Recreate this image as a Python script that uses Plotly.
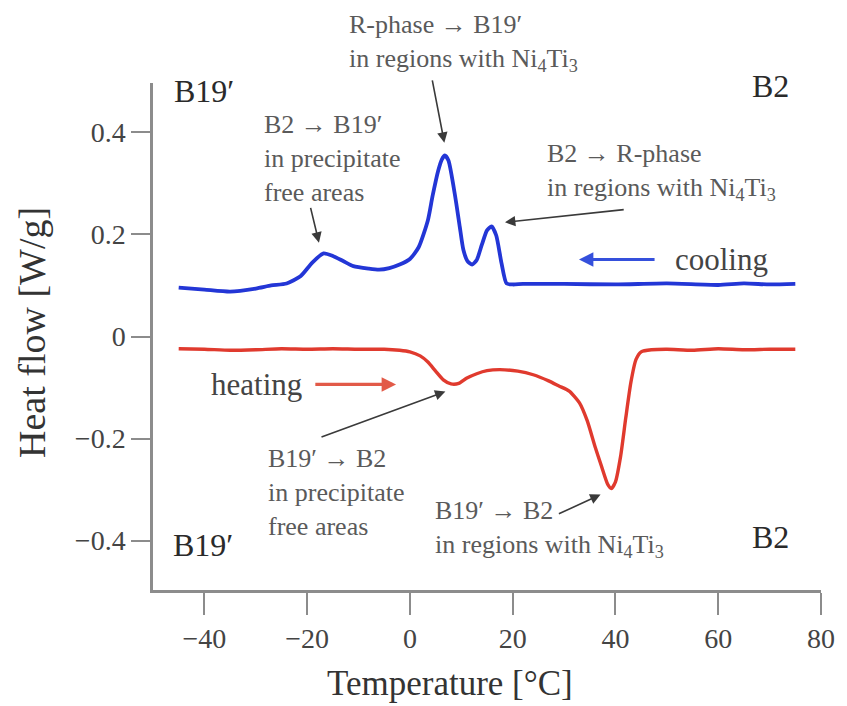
import plotly.graph_objects as go

# ---------------- data ----------------
cool_T = [-45, -40, -35, -30, -27, -24, -21.3, -19, -16.8, -15, -13, -11, -8, -6, -4, -2, 0, 1.7,
          3.5, 4.4, 5.5, 6.2, 6.8, 7.5, 8.8, 9.7, 10.4, 11.2, 12.1, 13, 14, 15, 15.9, 16.8, 17.8,
          18.8, 20, 22, 30, 40, 50, 60, 65, 70, 75]
cool_Q = [0.096, 0.092, 0.088, 0.094, 0.100, 0.104, 0.118, 0.145, 0.163, 0.158, 0.148, 0.138,
          0.133, 0.131, 0.134, 0.141, 0.152, 0.175, 0.228, 0.275, 0.325, 0.347, 0.355, 0.345,
          0.275, 0.215, 0.170, 0.148, 0.141, 0.150, 0.180, 0.208, 0.216, 0.198, 0.145, 0.104,
          0.102, 0.103, 0.103, 0.102, 0.104, 0.101, 0.104, 0.102, 0.103]

heat_T = [-45, -40, -35, -30, -25, -20, -15, -10, -5, -2, 0, 2, 3.5, 5, 6.5, 8, 9.5, 11, 13, 15,
          17.5, 21, 24, 27, 29, 31, 33, 34.5, 36, 37.3, 38.5, 39.2, 40, 41, 42, 43, 44, 45, 47,
          50, 55, 60, 65, 70, 75]
heat_Q = [-0.024, -0.025, -0.027, -0.026, -0.024, -0.025, -0.024, -0.025, -0.025, -0.027,
          -0.030, -0.038, -0.050, -0.068, -0.085, -0.093, -0.092, -0.082, -0.073, -0.067,
          -0.065, -0.068, -0.075, -0.087, -0.097, -0.107, -0.130, -0.165, -0.215, -0.255,
          -0.290, -0.298, -0.285, -0.235, -0.160, -0.090, -0.045, -0.030, -0.026, -0.025,
          -0.027, -0.024, -0.026, -0.025, -0.025]

x_ticks = [-40, -20, 0, 20, 40, 60, 80]
y_ticks = [-0.4, -0.2, 0, 0.2, 0.4]

NI = "Ni<sub>4</sub>Ti<sub>3</sub>"
note_texts = [
    "R-phase → B19′<br>in regions with " + NI,
    "B2 → B19′<br>in precipitate<br>free areas",
    "B2 → R-phase<br>in regions with " + NI,
    "B19′ → B2<br>in precipitate<br>free areas",
    "B19′ → B2<br>in regions with " + NI,
]
phase_texts = ["B19′", "B2", "B19′", "B2"]

BLUE = "#2336d6"
RED = "#e03a2e"
FONT = "Liberation Serif"

L, R, T, B = 153, 15, 83, 116
W, H = 847, 706
PW, PH = W - L - R, H - T - B


def px_x(p):
    return (p - L) / PW


def px_y(p):
    return (H - B - p) / PH


fig = go.Figure()
fig.add_trace(go.Scatter(x=cool_T, y=cool_Q, mode="lines", name="cooling",
                         line=dict(color=BLUE, width=3.8, shape="spline", smoothing=0.6)))
fig.add_trace(go.Scatter(x=heat_T, y=heat_Q, mode="lines", name="heating",
                         line=dict(color=RED, width=3.4, shape="spline", smoothing=0.6)))

ann = []
# transition notes (left aligned); first one sits above the plot area -> paper y
note_pos = [(-12.3, px_y(43.5), "paper"), (-28.7, 0.349, "y"), (26.2, 0.3225, "y"),
            (-28.1, -0.305, "y"), (4.4, -0.377, "y")]
for t, (x, y, yr) in zip(note_texts, note_pos):
    ann.append(dict(x=x, y=y, xref="x", yref=yr, text=t, showarrow=False, xanchor="left",
                    yanchor="middle", align="left", font=dict(family=FONT, size=26, color="#5a5a5a")))

# black pointer arrows: (head x, head y, tail x, tail y)
pointers = [(6.7, 0.38, 4.3, 0.505), (-17.7, 0.184, -19.4, 0.255), (18.5, 0.224, 41.9, 0.249),
            (6.9, -0.108, -17.5, -0.198), (37.1, -0.31, 28.7, -0.349)]
for hx, hy, tx, ty in pointers:
    ann.append(dict(x=hx, y=hy, ax=tx, ay=ty, xref="x", yref="y", axref="x", ayref="y", text="",
                    showarrow=True, arrowhead=2, arrowsize=1.3, arrowwidth=1.6, arrowcolor="#3a3a3a"))

# cooling / heating direction arrows
ann.append(dict(x=32.9, y=0.151, ax=47.9, ay=0.151, xref="x", yref="y", axref="x", ayref="y",
                text="", showarrow=True, arrowhead=2, arrowsize=0.9, arrowwidth=3.2, arrowcolor="#3550dc"))
ann.append(dict(x=-2.7, y=-0.094, ax=-18.7, ay=-0.094, xref="x", yref="y", axref="x", ayref="y",
                text="", showarrow=True, arrowhead=2, arrowsize=0.9, arrowwidth=3.2, arrowcolor="#e25a48"))
ann.append(dict(x=51.2, y=0.151, xref="x", yref="y", text="cooling", showarrow=False,
                xanchor="left", yanchor="middle", font=dict(family=FONT, size=31, color="#444")))
ann.append(dict(x=-39.2, y=-0.094, xref="x", yref="y", text="heating", showarrow=False,
                xanchor="left", yanchor="middle", font=dict(family=FONT, size=31, color="#444")))

# phase labels at corners
phase_pos = [(-46.3, 0.482, "left"), (74.2, 0.492, "right"), (-46.5, -0.408, "left"), (74.2, -0.394, "right")]
for t, (x, y, xa) in zip(phase_texts, phase_pos):
    ann.append(dict(x=x, y=y, xref="x", yref="y", text=t, showarrow=False, xanchor=xa,
                    yanchor="middle", font=dict(family=FONT, size=32, color="#2a2a2a")))

# axis titles
ann.append(dict(x=px_x(455), y=px_y(683), xref="paper", yref="paper", text="Temperature [°C]",
                showarrow=False, xanchor="center", yanchor="middle",
                font=dict(family=FONT, size=35, color="#333")))
ann.append(dict(x=px_x(30), y=px_y(332), xref="paper", yref="paper", text="Heat flow [W/g]",
                showarrow=False, textangle=-90, xanchor="center", yanchor="middle",
                font=dict(family=FONT, size=38, color="#333")))

fig.update_layout(
    width=W, height=H, margin=dict(l=L, r=R, t=T, b=B),
    paper_bgcolor="white", plot_bgcolor="white", showlegend=False,
    annotations=ann,
    xaxis=dict(range=[-50, 80], tickvals=x_ticks, ticktext=[f"{v:g}".replace("-", "−") for v in x_ticks],
               showline=True, linecolor="#8c8c8c", linewidth=2.5, ticks="outside", ticklen=22,
               tickwidth=2.2, tickcolor="#8c8c8c", showgrid=False, zeroline=False,
               tickfont=dict(family=FONT, size=28, color="#444")),
    yaxis=dict(range=[-0.497, 0.497], tickvals=y_ticks,
               ticktext=[("0" if v == 0 else f"{v:g}".replace("-", "−")) for v in y_ticks],
               showline=True, linecolor="#8c8c8c", linewidth=2.5, ticks="outside", ticklen=19,
               tickwidth=2.2, tickcolor="#8c8c8c", showgrid=False, zeroline=False,
               tickfont=dict(family=FONT, size=28, color="#444")),
)

fig.write_html("out.html")
